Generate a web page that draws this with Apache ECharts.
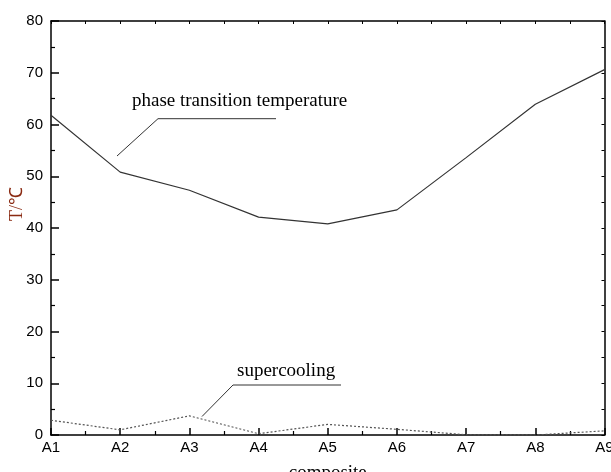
<!DOCTYPE html>
<html><head><meta charset="utf-8">
<script src="https://cdn.jsdelivr.net/npm/echarts@6/dist/echarts.min.js"></script>
<style>html,body{margin:0;padding:0;background:#fff}#c{width:611px;height:472px}</style>
</head><body><div id="c"></div>
<script>
const categories = ['A1','A2','A3','A4','A5','A6','A7','A8','A9'];
const phaseTransition = [61.8, 50.8, 47.3, 42.1, 40.8, 43.5, 53.6, 63.9, 70.6];
const supercooling = [2.85, 1.0, 3.7, 0.25, 2.05, 1.1, 0.05, 0.0, 0.8];
const yTicks = [0,10,20,30,40,50,60,70,80];

const chart = echarts.init(document.getElementById('c'), null, {renderer:'canvas'});
const axisLine = {show:true, onZero:false, lineStyle:{color:'#000', width:1.5}};
const serif = '"Liberation Serif", "Times New Roman", serif';
const option = {
  animation:false,
  backgroundColor:'#fff',
  grid:{left:51, right:6.5, top:21, bottom:37, containLabel:false, outerBoundsMode:'none'},
  xAxis:[{
    type:'value', min:0, max:categories.length-1, interval:1, position:'bottom',
    axisLine:axisLine,
    axisTick:{show:true, inside:true, length:7, lineStyle:{color:'#000', width:1.5}},
    minorTick:{show:true, splitNumber:2, length:4, lineStyle:{color:'#000', width:1.2}},
    axisLabel:{formatter:v=>categories[v]||'', color:'#000', fontFamily:'Liberation Sans, Arial', fontSize:15, margin:5},
    splitLine:{show:false},
    name:'composite', nameLocation:'middle', nameGap:29, nameMoveOverlap:false,
    nameTextStyle:{fontFamily:serif, fontSize:19, color:'#000'}
  },{
    type:'value', min:0, max:categories.length-1, interval:1, position:'top',
    axisLine:axisLine,
    axisTick:{show:true, inside:true, length:3, lineStyle:{color:'#000', width:1}},
    minorTick:{show:true, splitNumber:2, length:3, lineStyle:{color:'#000', width:1}},
    axisLabel:{show:false}, splitLine:{show:false}
  }],
  yAxis:[{
    type:'value', min:0, max:80, interval:10, position:'left',
    axisLine:axisLine,
    axisTick:{show:true, inside:true, length:8, lineStyle:{color:'#000', width:1.5}},
    minorTick:{show:true, splitNumber:2, length:4, lineStyle:{color:'#000', width:1.2}},
    axisLabel:{formatter:v=>yTicks.includes(v)?String(v):'', color:'#000', fontFamily:'Liberation Sans, Arial', fontSize:15, margin:8},
    splitLine:{show:false}
  },{
    type:'value', min:0, max:80, interval:10, position:'right',
    axisLine:axisLine,
    axisTick:{show:true, inside:true, length:3, lineStyle:{color:'#000', width:1}},
    minorTick:{show:true, splitNumber:2, length:3, lineStyle:{color:'#000', width:1}},
    axisLabel:{show:false}, splitLine:{show:false}
  }],
  series:[{
    type:'line', xAxisIndex:0, yAxisIndex:0, showSymbol:false, symbol:'none',
    data:phaseTransition.map((v,i)=>[i,v]),
    lineStyle:{color:'#333', width:1.2}
  },{
    type:'line', xAxisIndex:0, yAxisIndex:0, showSymbol:false, symbol:'none',
    data:supercooling.map((v,i)=>[i,v]),
    lineStyle:{color:'#555', width:1.2, type:[2,2]}
  }],
  graphic:[
    {type:'text', x:17, y:204, rotation:Math.PI/2, style:{text:'T/℃', font:'18px ' + serif, fill:'#8a2a12', textAlign:'center', textVerticalAlign:'middle'}},
    {type:'text', left:132, top:92, style:{text:'phase transition temperature', font:'19px ' + serif, fill:'#000'}},
    {type:'polyline', shape:{points:[[117,156],[158,118.7],[276,118.7]]}, style:{stroke:'#333', lineWidth:1, fill:null}},
    {type:'text', left:237, top:362, style:{text:'supercooling', font:'19px ' + serif, fill:'#000'}},
    {type:'polyline', shape:{points:[[202,416.5],[233,385],[341,385]]}, style:{stroke:'#333', lineWidth:1, fill:null}}
  ]
};
chart.setOption(option);
</script>
</body></html>
